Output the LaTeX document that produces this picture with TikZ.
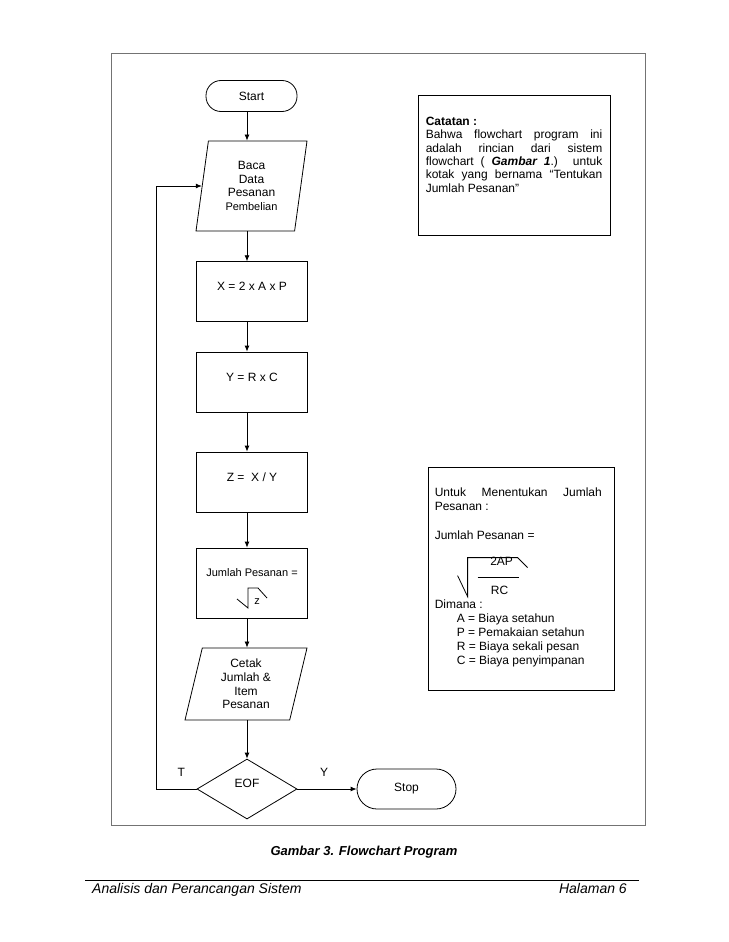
\documentclass[tikz,border=0pt]{standalone}
\usepackage{fontspec}
\setmainfont{Liberation Sans}
\usetikzlibrary{arrows.meta,calc,positioning,shapes.geometric}

\begin{document}
\begin{tikzpicture}[
    x=1pt, y=-1pt,
    >={Latex[length=6pt,width=5pt]},
    flow/.style={line width=0.8pt},
    term/.style={draw,line width=0.8pt,rounded corners=15pt,minimum width=91pt,minimum height=31pt,font=\fontsize{12}{14}\selectfont},
    io/.style={draw,line width=0.8pt,trapezium,trapezium stretches body,trapezium left angle=76,trapezium right angle=104,inner sep=0pt,align=center,font=\fontsize{12}{13.8}\selectfont},
    proc/.style={draw,line width=0.8pt,minimum width=111pt,inner sep=0pt,text height=29pt,text depth=31pt,font=\fontsize{12}{14}\selectfont},
    decide/.style={draw,line width=0.8pt,diamond,minimum width=100pt,minimum height=60pt,inner sep=0pt,text depth=12pt,font=\fontsize{12}{14}\selectfont},
    note/.style={draw,line width=0.8pt,inner sep=0pt},
    txt/.style={inner sep=0pt,font=\fontsize{12}{13.3}\selectfont},
    pagebox/.style={draw=black!55,line width=1pt}
]
\useasboundingbox (0,0) rectangle (728,942);

% --- Page frame ---
\draw[pagebox] (111.5,54) rectangle (645,825.5);

% --- Flowchart column ---
\coordinate (spine) at (247,0);
\coordinate (loopx) at (156,0);

\node[term] (start) at (251.5,96) {Start};
\node[io,minimum width=111pt,minimum height=90pt] (baca) at (251.5,186)
    {Baca\\Data\\Pesanan\\{\fontsize{11}{13}\selectfont Pembelian}};
\node[proc] (hitx) at (252,291.7) {X = 2 x A x P};
\node[proc] (hity) at (252,382) {Y = R x C};
\node[proc] (hitz) at (252,482) {Z = \ X / Y};
\node[proc,text height=28pt,text depth=42pt,font=\fontsize{11}{13}\selectfont] (jml) at (252,583)
    {Jumlah Pesanan =};
\node[io,trapezium left angle=71,trapezium right angle=109,minimum width=122pt,minimum height=72pt] (cetak) at (246,684)
    {Cetak\\Jumlah \&\\Item\\Pesanan};
\node[decide] (eof) at (247,789) {EOF};
\node[term,minimum width=99pt,minimum height=40pt,rounded corners=20pt] (stop) at (406.5,789) {Stop};

% akar z di kotak jumlah
\draw[flow] ($(jml.base)+(-15,23)$) -- ($(jml.base)+(-4,32)$) -- ($(jml.base)+(-4,12)$)
    -- ($(jml.base)+(6,12)$) -- ($(jml.base)+(15,22)$);
\node[txt,anchor=base,font=\fontsize{11}{13}\selectfont] (zakar) at ($(jml.base)+(5,28)$) {z};

% --- Connectors ---
\draw[flow,->] (start.south -| spine) -- (baca.north -| spine);
\draw[flow,->] (baca.south -| spine) -- (hitx.north -| spine);
\draw[flow,->] (hitx.south -| spine) -- (hity.north -| spine);
\draw[flow,->] (hity.south -| spine) -- (hitz.north -| spine);
\draw[flow,->] (hitz.south -| spine) -- (jml.north -| spine);
\draw[flow,->] (jml.south -| spine) -- (cetak.north -| spine);
\draw[flow,->] (cetak.south -| spine) -- (eof.north);
\draw[flow,->] (eof.east) -- (stop.west)
    node[pos=0.45,anchor=base,yshift=13pt,font=\fontsize{12}{14}\selectfont] {Y};
\draw[flow,->] (eof.west) -- (eof.west -| loopx)
    node[pos=0.38,anchor=base,yshift=13pt,font=\fontsize{12}{14}\selectfont] {T}
    |- (baca.west);

% --- Catatan ---
\node[note,minimum width=192pt,minimum height=140pt] (catatan) at (514,165) {};
\node[txt,anchor=base west,text width=176.5pt,align=justify] (cattxt) at ($(catatan.north west)+(8,31)$)
    {\textbf{Catatan :}\\
     Bahwa flowchart program ini\linebreak
     adalah rincian dari sistem\linebreak
     flowchart ( \textbf{\textit{Gambar 1}}.) untuk\linebreak
     kotak yang bernama “Tentukan\linebreak
     Jumlah Pesanan”};

% --- Rumus jumlah pesanan ---
\node[note,minimum width=186pt,minimum height=223pt] (rumus) at (521,578.5) {};
\node[txt,anchor=base west,text width=167pt,align=justify,font=\fontsize{12}{14}\selectfont] (rumtxt)
    at ($(rumus.north west)+(7,30)$) {Untuk Menentukan Jumlah\linebreak Pesanan :};
\node[txt,anchor=base west] (rumjp) at ($(rumus.north west)+(7,73)$) {Jumlah Pesanan =};
\node[txt,anchor=base] (rumatas) at ($(rumus.north west)+(74,99)$) {2AP};
\node[txt,anchor=base] (rumbawah) at ($(rumus.north west)+(72,128)$) {RC};
\draw[flow] ($(rumus.north west)+(50,111)$) -- ($(rumus.north west)+(91,111)$);
\draw[flow] ($(rumus.north west)+(30,109)$) -- ($(rumus.north west)+(40,130)$) -- ($(rumus.north west)+(40,91)$)
    -- ($(rumus.north west)+(90,91)$) -- ($(rumus.north west)+(100,101)$);
\node[txt,anchor=base west] (dimana) at ($(rumus.north west)+(7,142)$) {Dimana :};
\node[txt,anchor=base west] (varA) at ($(rumus.north west)+(29,156)$) {A = Biaya setahun};
\node[txt,anchor=base west] (varP) at ($(rumus.north west)+(29,170)$) {P = Pemakaian setahun};
\node[txt,anchor=base west] (varR) at ($(rumus.north west)+(29,184)$) {R = Biaya sekali pesan};
\node[txt,anchor=base west] (varC) at ($(rumus.north west)+(29,198)$) {C = Biaya penyimpanan};

% --- Caption and footer ---
\node[txt,anchor=base,font=\fontsize{13}{15}\selectfont\bfseries\itshape] (caption) at (364,855)
    {Gambar 3. Flowchart Program};
\draw[line width=0.9pt] (85,880) -- (639,880);
\node[txt,anchor=base west,font=\fontsize{14}{16}\selectfont\itshape] (footl) at (92,893)
    {Analisis dan Perancangan Sistem};
\node[txt,anchor=base east,font=\fontsize{14}{16}\selectfont\itshape] (footr) at (627,893)
    {Halaman 6};
\end{tikzpicture}
\end{document}
